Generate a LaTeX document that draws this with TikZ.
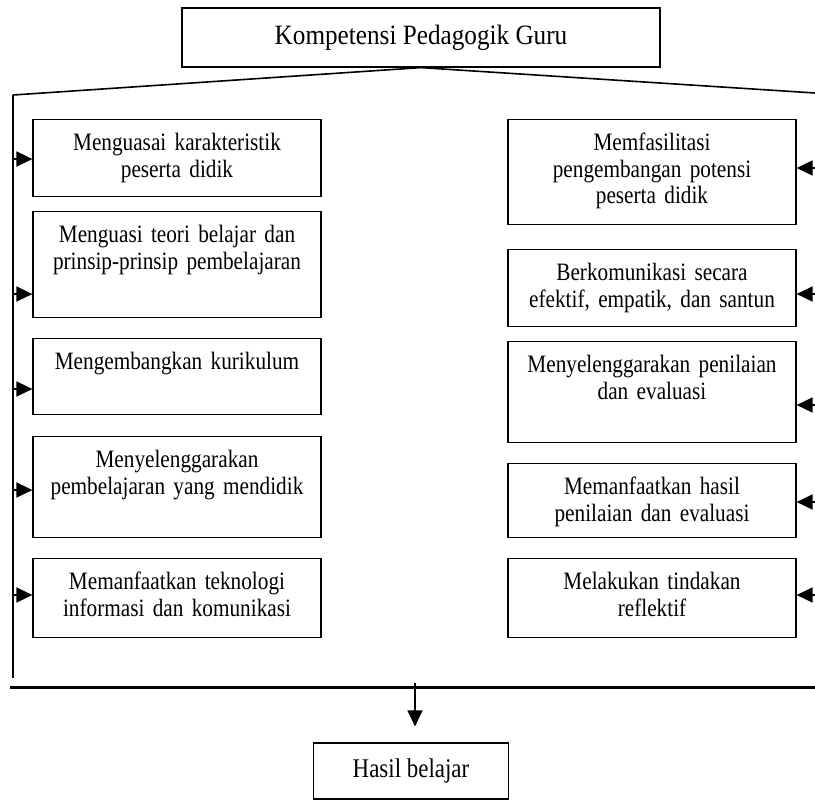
\documentclass[tikz,border=0pt]{standalone}
\usepackage{fontspec}
\setmainfont[FakeStretch=0.85]{Liberation Serif}
\newfontfamily\lebar[FakeStretch=0.9]{Liberation Serif}
\usetikzlibrary{shapes,arrows.meta}

\begin{document}
\begin{tikzpicture}[x=0.5pt, y=-0.5pt,
    font=\fontsize{12.5}{13.3}\selectfont,
    kotak/.style={draw, line width=0.6pt, anchor=north, align=center,
      text width=144pt, inner xsep=0pt, inner ysep=6.5pt, text height=9pt},
    garis/.style={line width=0.8pt},
    panah/.style={line width=0.8pt, -{Triangle[length=8pt,width=7.5pt]}}]
    \useasboundingbox (0,0) rectangle (815,800);
    % Sizes
    \pgfmathsetmacro{\lx}{177}
    \pgfmathsetmacro{\rx}{652}

    % top and bottom
    \node[draw, line width=0.6pt, minimum width=239pt, minimum height=29.5pt,
      font=\lebar\fontsize{14}{15}\selectfont] (guru) at (421,37.5) {Kompetensi Pedagogik Guru};
    \node[draw, line width=0.6pt, minimum width=97.5pt, minimum height=28pt,
      font=\fontsize{13.5}{15}\selectfont] (hasil) at (411,771) {Hasil belajar};

    % left column
    \node[kotak, text depth=16.5pt] (l1) at (\lx,119) {Menguasai karakteristik\\peserta didik};
    \node[kotak, text depth=31pt] (l2) at (\lx,211) {Menguasi teori belajar dan\\prinsip-prinsip pembelajaran};
    \node[kotak, text depth=16pt] (l3) at (\lx,338) {Mengembangkan kurikulum};
    \node[kotak, text depth=28.5pt] (l4) at (\lx,436) {Menyelenggarakan\\pembelajaran yang mendidik};
    \node[kotak, text depth=17.5pt] (l5) at (\lx,558) {Memanfaatkan teknologi\\informasi dan komunikasi};

    % right column
    \node[kotak, text depth=30.5pt] (r1) at (\rx,119) {Memfasilitasi\\pengembangan potensi\\peserta didik};
    \node[kotak, text depth=16.5pt] (r2) at (\rx,249) {Berkomunikasi secara\\efektif, empatik, dan santun};
    \node[kotak, text depth=28.5pt] (r3) at (\rx,341) {Menyelenggarakan penilaian\\dan evaluasi};
    \node[kotak, text depth=15pt] (r4) at (\rx,463) {Memanfaatkan hasil\\penilaian dan evaluasi};
    \node[kotak, text depth=17.5pt] (r5) at (\rx,558) {Melakukan tindakan\\reflektif};

    % frame
    \coordinate (kiri) at (13,95);
    \coordinate (kanan) at (815,93);
    \coordinate (kiribawah) at (13,678);
    \coordinate (dasarkiri) at (10,687);
    \coordinate (dasarkanan) at (815,687);
    \coordinate (turun) at (415,683);
    \draw[garis] (kiri) -- (guru.south) -- (kanan);
    \draw[garis] (kiri) -- (kiribawah);
    \draw[line width=1.5pt] (dasarkiri) -- (dasarkanan);

    % arrows
    \foreach \i/\y in {1/159, 2/294, 3/389, 4/490, 5/595}
      \draw[panah] (kiri |- 0,\y) -- (l\i.west |- 0,\y);
    \foreach \i/\y in {1/168, 2/294, 3/405, 4/502, 5/595}
      \draw[panah] (kanan |- 0,\y) -- (r\i.east |- 0,\y);
    \draw[panah, shorten >=8pt] (turun) -- (turun |- hasil.north);
\end{tikzpicture}
\end{document}
